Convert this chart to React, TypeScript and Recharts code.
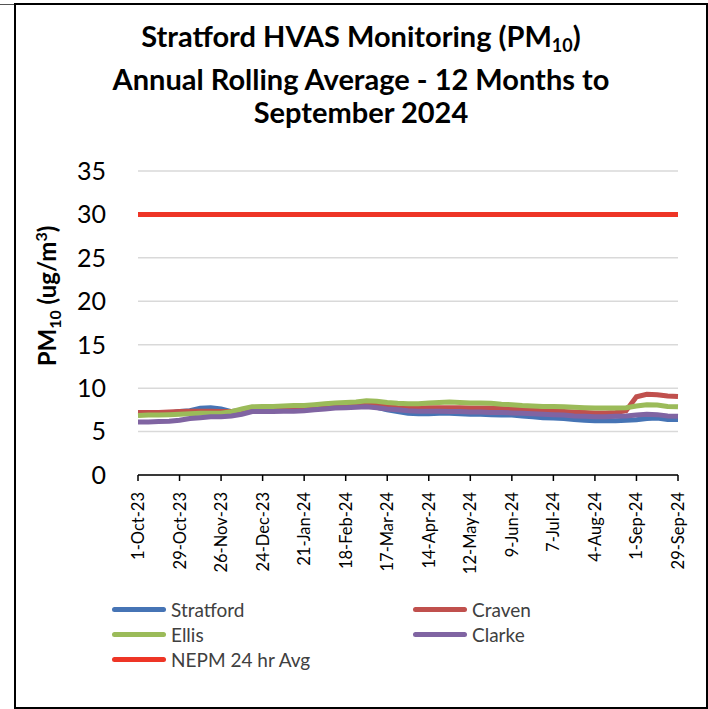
import { CartesianGrid, Line, LineChart, XAxis, YAxis } from 'recharts'

// weekly points, 1-Oct-23 to 29-Sep-24
const weeks = [
  '1-Oct-23', '8-Oct-23', '15-Oct-23', '22-Oct-23', '29-Oct-23', '5-Nov-23', '12-Nov-23', '19-Nov-23',
  '26-Nov-23', '3-Dec-23', '10-Dec-23', '17-Dec-23', '24-Dec-23', '31-Dec-23', '7-Jan-24', '14-Jan-24',
  '21-Jan-24', '28-Jan-24', '4-Feb-24', '11-Feb-24', '18-Feb-24', '25-Feb-24', '3-Mar-24', '10-Mar-24',
  '17-Mar-24', '24-Mar-24', '31-Mar-24', '7-Apr-24', '14-Apr-24', '21-Apr-24', '28-Apr-24', '5-May-24',
  '12-May-24', '19-May-24', '26-May-24', '2-Jun-24', '9-Jun-24', '16-Jun-24', '23-Jun-24', '30-Jun-24',
  '7-Jul-24', '14-Jul-24', '21-Jul-24', '28-Jul-24', '4-Aug-24', '11-Aug-24', '18-Aug-24', '25-Aug-24',
  '1-Sep-24', '8-Sep-24', '15-Sep-24', '22-Sep-24', '29-Sep-24',
]

const stratford = [
  7.0, 7.0, 7.05, 7.1, 7.3, 7.4, 7.7, 7.75, 7.6, 7.3, 7.4, 7.6, 7.65, 7.6, 7.65, 7.7,
  7.75, 7.8, 7.85, 7.9, 7.95, 8.0, 8.0, 7.8, 7.5, 7.3, 7.1, 7.05, 7.05, 7.1, 7.1, 7.05,
  7.0, 7.0, 6.95, 6.9, 6.9, 6.8, 6.7, 6.6, 6.55, 6.5, 6.4, 6.3, 6.25, 6.25, 6.25, 6.3,
  6.35, 6.5, 6.55, 6.4, 6.4,
]
const craven = [
  7.2, 7.2, 7.2, 7.25, 7.3, 7.35, 7.35, 7.35, 7.3, 7.3, 7.4, 7.6, 7.7, 7.7, 7.75, 7.8,
  7.8, 7.85, 7.95, 8.0, 8.05, 8.1, 8.1, 8.0, 7.9, 7.75, 7.7, 7.7, 7.75, 7.75, 7.75, 7.75,
  7.7, 7.7, 7.7, 7.65, 7.6, 7.55, 7.45, 7.4, 7.35, 7.3, 7.25, 7.2, 7.15, 7.15, 7.2, 7.4,
  9.0, 9.3, 9.25, 9.1, 9.05,
]
const ellis = [
  6.85, 6.9, 6.9, 6.95, 7.0, 7.05, 7.1, 7.1, 7.1, 7.3, 7.6, 7.85, 7.9, 7.9, 7.95, 8.0,
  8.0, 8.1, 8.2, 8.3, 8.35, 8.4, 8.55, 8.5, 8.35, 8.25, 8.2, 8.2, 8.3, 8.35, 8.4, 8.35,
  8.3, 8.3, 8.25, 8.15, 8.1, 8.0, 7.95, 7.9, 7.9, 7.85, 7.8, 7.75, 7.7, 7.7, 7.7, 7.75,
  7.95, 8.1, 8.05, 7.9, 7.85,
]
const clarke = [
  6.1, 6.1, 6.15, 6.2, 6.3, 6.5, 6.6, 6.7, 6.7, 6.8, 7.0, 7.3, 7.3, 7.3, 7.35, 7.35,
  7.4, 7.5, 7.6, 7.7, 7.75, 7.8, 7.85, 7.75, 7.6, 7.5, 7.4, 7.35, 7.35, 7.35, 7.3, 7.3,
  7.25, 7.25, 7.2, 7.2, 7.15, 7.1, 7.05, 7.0, 6.95, 6.9, 6.8, 6.75, 6.7, 6.7, 6.75, 6.8,
  6.9, 7.0, 6.95, 6.8, 6.75,
]
const nepmLimit = 30
const yTicks = [0, 5, 10, 15, 20, 25, 30, 35]

const FONT = 'Lato, "Open Sans", sans-serif'

const chartData = weeks.map((date, i) => ({
  date,
  stratford: stratford[i],
  craven: craven[i],
  ellis: ellis[i],
  clarke: clarke[i],
  nepm: nepmLimit,
}))

const legendItems = [
  { name: 'Stratford', color: '#4674B5', left: 112, top: 597 },
  { name: 'Craven', color: '#C0504D', left: 413, top: 597 },
  { name: 'Ellis', color: '#9BBB59', left: 112, top: 622 },
  { name: 'Clarke', color: '#8064A2', left: 413, top: 622 },
  { name: 'NEPM 24 hr Avg', color: '#EE3526', left: 112, top: 647 },
]

const DateTick = (props: any) => {
  const { x, y, payload } = props
  return (
    <text
      x={x}
      y={y + 9}
      transform={`rotate(-90, ${x}, ${y + 9})`}
      textAnchor="end"
      dominantBaseline="central"
      fontSize={16.5}
      fontFamily={FONT}
      fill="#000"
    >
      {payload.value}
    </text>
  )
}

export default function App() {
  return (
    <div style={{ position: 'absolute', left: 0, top: 0, width: 708, height: 709, background: '#fff', overflow: 'hidden' }}>
      <div style={{ position: 'absolute', left: 0, top: 4, width: 15, height: 1, background: '#555' }} />
      <div
        style={{
          position: 'absolute',
          left: 14,
          top: 3,
          width: 690,
          height: 702,
          border: '2.5px solid #000',
        }}
      />
      <div
        style={{
          position: 'absolute',
          left: 0,
          top: 19,
          width: 722,
          textAlign: 'center',
          fontFamily: FONT,
          fontWeight: 700,
          fontSize: 29,
          lineHeight: '33px',
          color: '#000',
        }}
      >
        <div>
          Stratford HVAS Monitoring (PM<sub style={{ fontSize: 18, verticalAlign: -5 }}>10</sub>)
        </div>
        <div>Annual Rolling Average - 12 Months to</div>
        <div>September 2024</div>
      </div>
      <div
        style={{
          position: 'absolute',
          left: 47,
          top: 296,
          transform: 'translate(-50%, -50%) rotate(-90deg)',
          whiteSpace: 'nowrap',
          fontFamily: FONT,
          fontWeight: 700,
          fontSize: 24,
          color: '#000',
        }}
      >
        PM<sub style={{ fontSize: 16, verticalAlign: -5 }}>10</sub> (ug/m<sup style={{ fontSize: 16, verticalAlign: 9 }}>3</sup>)
      </div>
      <LineChart
        width={708}
        height={709}
        data={chartData}
        margin={{ top: 171, right: 30, left: 40, bottom: 134 }}
        style={{ position: 'absolute', left: 0, top: 0 }}
      >
        <CartesianGrid vertical={false} stroke="#D9D9D9" strokeWidth={1.5} />
        <XAxis
          dataKey="date"
          interval={3}
          height={100}
          axisLine={{ stroke: '#000', strokeWidth: 1.5 }}
          tickLine={{ stroke: '#000', strokeWidth: 1.5 }}
          tickSize={6}
          tick={<DateTick />}
        />
        <YAxis
          domain={[0, 35]}
          ticks={yTicks}
          interval={0}
          width={98}
          axisLine={false}
          tickLine={false}
          tickMargin={26}
          tick={{ fontSize: 25, fontFamily: FONT, fill: '#000' }}
        />
        <Line dataKey="stratford" name="Stratford" stroke="#4674B5" strokeWidth={5} dot={false} isAnimationActive={false} />
        <Line dataKey="craven" name="Craven" stroke="#C0504D" strokeWidth={5} dot={false} isAnimationActive={false} />
        <Line dataKey="ellis" name="Ellis" stroke="#9BBB59" strokeWidth={5} dot={false} isAnimationActive={false} />
        <Line dataKey="clarke" name="Clarke" stroke="#8064A2" strokeWidth={5} dot={false} isAnimationActive={false} />
        <Line dataKey="nepm" name="NEPM 24 hr Avg" stroke="#EE3526" strokeWidth={5} dot={false} isAnimationActive={false} />
      </LineChart>
      {legendItems.map((item) => (
        <div
          key={item.name}
          style={{
            position: 'absolute',
            left: item.left,
            top: item.top,
            display: 'flex',
            alignItems: 'center',
            height: 24,
          }}
        >
          <div style={{ width: 54, height: 5, borderRadius: 3, background: item.color, marginRight: 5 }} />
          <span style={{ fontSize: 19, fontFamily: FONT, color: '#404040' }}>{item.name}</span>
        </div>
      ))}
    </div>
  )
}
